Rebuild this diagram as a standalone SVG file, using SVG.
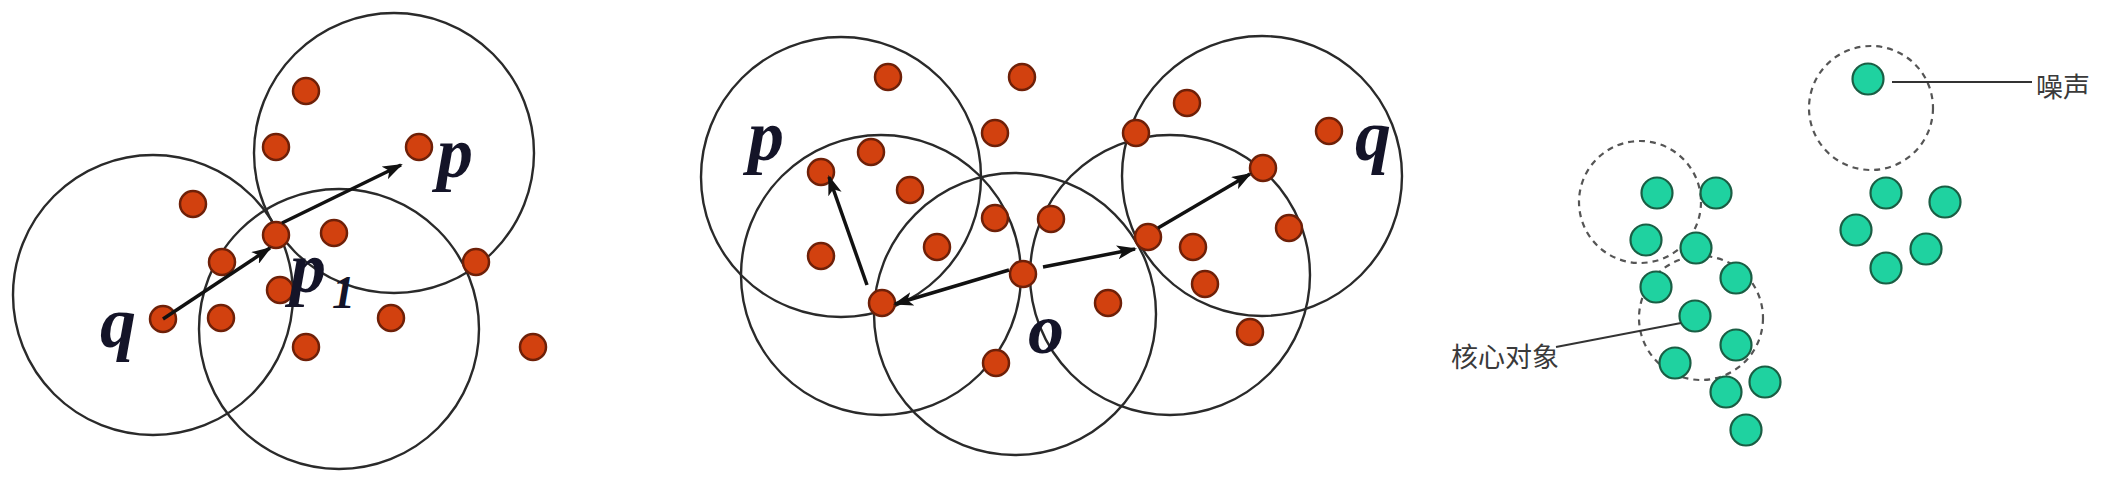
<svg xmlns="http://www.w3.org/2000/svg" width="2106" height="482" viewBox="0 0 2106 482">
<style>
.ring{fill:none;stroke:#2a2a2a;stroke-width:2.4}
.dash{fill:none;stroke:#555;stroke-width:2.2;stroke-dasharray:6 5}
.rd{fill:#d2410f;stroke:#6e2008;stroke-width:2.5}
.gd{fill:#1fd2a0;stroke:#1a5e44;stroke-width:2.2}
.arr{stroke:#111;stroke-width:3.5;fill:none;marker-end:url(#ah)}
.lead{stroke:#333;stroke-width:2;fill:none}
.lbl{font-family:'Liberation Serif','DejaVu Serif',serif;font-style:italic;font-weight:700;font-size:72px;fill:#141428}
.sub{font-size:46px}
.cjk{font-family:'Noto Sans CJK SC',sans-serif;font-size:27px;fill:#3a3a3a}
</style>
<defs>
<marker id="ah" markerUnits="userSpaceOnUse" markerWidth="20" markerHeight="14" refX="18" refY="7" orient="auto">
<path d="M0,0 L20,7 L0,14 L5,7 Z" fill="#111"/>
</marker>
</defs>
<rect width="2106" height="482" fill="#fff"/>
<g id="panel1">
<g id="p1-circles">
<circle class="ring" cx="153" cy="295" r="140"/>
<circle class="ring" cx="394" cy="153" r="140"/>
<circle class="ring" cx="339" cy="329" r="140"/>
</g>
<g id="p1-points">
<circle class="rd" cx="306" cy="91" r="13"/>
<circle class="rd" cx="276" cy="147" r="13"/>
<circle class="rd" cx="419" cy="147" r="13"/>
<circle class="rd" cx="193" cy="204" r="13"/>
<circle class="rd" cx="276" cy="235" r="13"/>
<circle class="rd" cx="334" cy="233" r="13"/>
<circle class="rd" cx="222" cy="262" r="13"/>
<circle class="rd" cx="476" cy="262" r="13"/>
<circle class="rd" cx="280" cy="290" r="13"/>
<circle class="rd" cx="163" cy="319" r="13"/>
<circle class="rd" cx="221" cy="318" r="13"/>
<circle class="rd" cx="391" cy="318" r="13"/>
<circle class="rd" cx="306" cy="347" r="13"/>
<circle class="rd" cx="533" cy="347" r="13"/>
</g>
<g id="p1-connectors">
<line class="arr" x1="163" y1="319" x2="270" y2="248"/>
<line class="arr" x1="282" y1="223" x2="401" y2="165"/>
</g>
<g id="p1-labels">
<text class="lbl" x="100" y="347">q</text>
<text class="lbl" x="437" y="177">p</text>
<text class="lbl" x="290" y="292">p<tspan class="sub" x="332" y="308">1</tspan></text>
</g>
</g>
<g id="panel2">
<g id="p2-circles">
<circle class="ring" cx="841" cy="177" r="140"/>
<circle class="ring" cx="881" cy="275" r="140"/>
<circle class="ring" cx="1015" cy="314" r="141"/>
<circle class="ring" cx="1170" cy="275" r="140"/>
<circle class="ring" cx="1262" cy="176" r="140"/>
</g>
<g id="p2-points">
<circle class="rd" cx="888" cy="77" r="13"/>
<circle class="rd" cx="1022" cy="77" r="13"/>
<circle class="rd" cx="1187" cy="103" r="13"/>
<circle class="rd" cx="995" cy="133" r="13"/>
<circle class="rd" cx="1136" cy="133" r="13"/>
<circle class="rd" cx="1329" cy="131" r="13"/>
<circle class="rd" cx="871" cy="152" r="13"/>
<circle class="rd" cx="821" cy="172" r="13"/>
<circle class="rd" cx="1263" cy="168" r="13"/>
<circle class="rd" cx="910" cy="190" r="13"/>
<circle class="rd" cx="995" cy="218" r="13"/>
<circle class="rd" cx="1051" cy="219" r="13"/>
<circle class="rd" cx="1289" cy="228" r="13"/>
<circle class="rd" cx="937" cy="247" r="13"/>
<circle class="rd" cx="1148" cy="237" r="13"/>
<circle class="rd" cx="1193" cy="247" r="13"/>
<circle class="rd" cx="821" cy="256" r="13"/>
<circle class="rd" cx="1023" cy="274" r="13"/>
<circle class="rd" cx="1205" cy="284" r="13"/>
<circle class="rd" cx="882" cy="303" r="13"/>
<circle class="rd" cx="1108" cy="303" r="13"/>
<circle class="rd" cx="1250" cy="332" r="13"/>
<circle class="rd" cx="996" cy="363" r="13"/>
</g>
<g id="p2-connectors">
<line class="arr" x1="867" y1="285" x2="829" y2="177"/>
<line class="arr" x1="1009" y1="270" x2="895" y2="304"/>
<line class="arr" x1="1043" y1="267" x2="1135" y2="249"/>
<line class="arr" x1="1158" y1="228" x2="1250" y2="174"/>
</g>
<g id="p2-labels">
<text class="lbl" x="748" y="160">p</text>
<text class="lbl" x="1355" y="160">q</text>
<text class="lbl" x="1028" y="353">o</text>
</g>
</g>
<g id="panel3">
<g id="p3-circles">
<circle class="dash" cx="1871" cy="108" r="62"/>
<circle class="dash" cx="1640" cy="202" r="61"/>
<circle class="dash" cx="1701" cy="318" r="62"/>
</g>
<g id="p3-points">
<circle class="gd" cx="1868" cy="79" r="15.5"/>
<circle class="gd" cx="1657" cy="193" r="15.5"/>
<circle class="gd" cx="1716" cy="193" r="15.5"/>
<circle class="gd" cx="1886" cy="193" r="15.5"/>
<circle class="gd" cx="1945" cy="202" r="15.5"/>
<circle class="gd" cx="1646" cy="240" r="15.5"/>
<circle class="gd" cx="1696" cy="248" r="15.5"/>
<circle class="gd" cx="1856" cy="230" r="15.5"/>
<circle class="gd" cx="1926" cy="249" r="15.5"/>
<circle class="gd" cx="1656" cy="287" r="15.5"/>
<circle class="gd" cx="1736" cy="278" r="15.5"/>
<circle class="gd" cx="1886" cy="268" r="15.5"/>
<circle class="gd" cx="1695" cy="316" r="15.5"/>
<circle class="gd" cx="1736" cy="345" r="15.5"/>
<circle class="gd" cx="1675" cy="363" r="15.5"/>
<circle class="gd" cx="1726" cy="392" r="15.5"/>
<circle class="gd" cx="1765" cy="382" r="15.5"/>
<circle class="gd" cx="1746" cy="430" r="15.5"/>
</g>
<g id="p3-connectors">
<line class="lead" x1="1892" y1="82" x2="2032" y2="82"/>
<line class="lead" x1="1681" y1="323" x2="1556" y2="347"/>
</g>
<g id="p3-labels">
<text class="cjk" x="2036" y="97">噪声</text>
<text class="cjk" x="1451" y="367">核心对象</text>
</g>
</g>
</svg>
